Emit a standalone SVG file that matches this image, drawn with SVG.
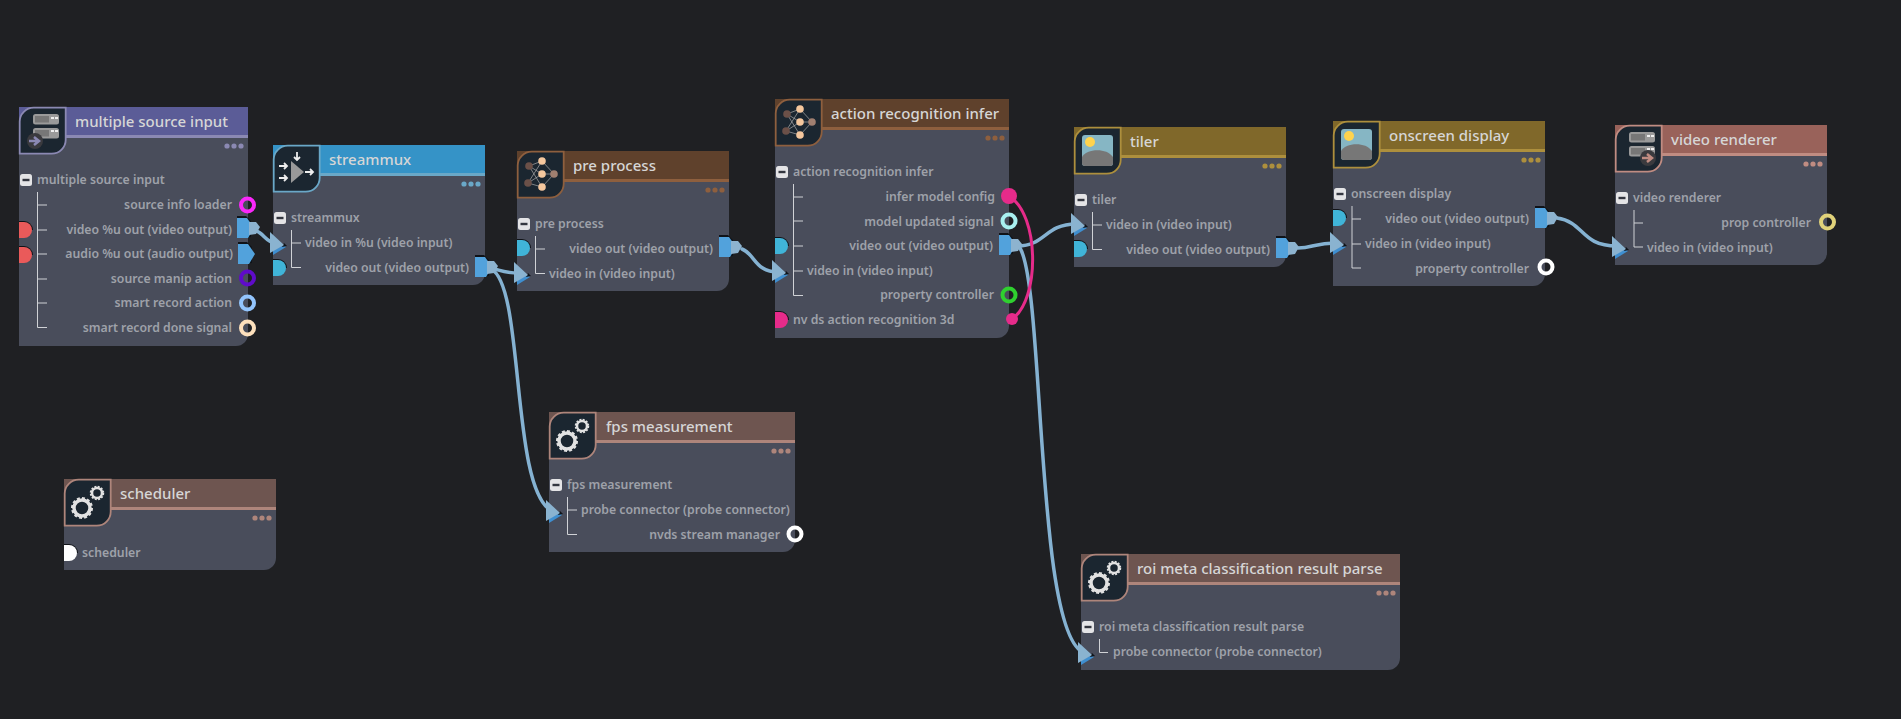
<svg xmlns="http://www.w3.org/2000/svg" width="1901" height="719" viewBox="0 0 1901 719">
<style>
text{font-family:"Noto Sans","Open Sans","DejaVu Sans",sans-serif}
.t{font-size:15px;font-weight:500;fill:#d6d6d6}
.b{font-size:12.25px;font-weight:600;fill:#9ea1a9}
.e{text-anchor:end}
.body{fill:#494d5b}
.tree{fill:none;stroke:#d0d2d6;stroke-width:1}
.wire{fill:none;stroke:#85b2d2;stroke-width:3.5;stroke-linecap:round}
.pink{fill:none;stroke:#e62b8a;stroke-width:3}
.ring{fill:none;stroke-width:4}
.dots{fill:currentColor}
.ib{fill:#1b2630;stroke:currentColor;stroke-width:1.8}
.net{stroke:#aaa;stroke-width:.7;fill:none}
.c1{color:#8b89b3}.c2{color:#6aa8c8}.c3{color:#8e5f3e}.c4{color:#ad8f3d}.c5{color:#c08c82}.c6{color:#ae857b}
</style>
<defs>
<path id="box" d="M0 46V14A14 14 0 0 1 14 0H46V32A14 14 0 0 1 32 46Z"/>
<g id="dots"><circle cx="-21" r="2.6"/><circle cx="-14" r="2.6"/><circle cx="-7" r="2.6"/></g>
<g id="col"><rect x="0" y="-6" width="12" height="12" rx="2.5" fill="#e4e4e6"/><rect x="2.5" y="-1.2" width="7" height="2.4" fill="#33363f"/></g>
<g id="out"><path d="M0 -11H9L14 -6V10L6 11H0Z" fill="#101318" transform="translate(0 -1)"/><path d="M0 -10H10L17 0 11 10H0Z" fill="#52a2dc"/></g>
<g id="outc"><use href="#out"/><path d="M12 -6H19L23 -1 19 6 12 7Z" fill="#8db3cf"/></g>
<g id="in"><path d="M3 13L16 5 14 3 3 8Z" fill="#3f8fd0"/><path d="M17 4L14 1 12 5Z" fill="#101318"/><path d="M0 -10L14 3 0 11Z" fill="#8ab3d0"/></g>
<g id="lp"><path d="M0 -9H5A9 9 0 0 1 14 0H0Z" fill="#101318"/><path d="M0 -8H5A8 8 0 0 1 5 8H0Z" fill="currentColor"/></g>
<g id="srv">
<rect x="14" y="7" width="26" height="10.500" rx="2.500" fill="#9a9a9a"/><rect x="16" y="9" width="14" height="6.500" fill="#777"/><path d="M32 11h3M36 11h3" stroke="#eee" stroke-width="2"/>
<rect x="14" y="21" width="26" height="10.500" rx="2.500" fill="#9a9a9a"/><rect x="16" y="23" width="14" height="6.500" fill="#777"/><path d="M32 24h3M36 24h3" stroke="#eee" stroke-width="2"/>
</g>
<g id="net">
<path class="net" d="M25 10L12 15 25 23 11 32 25 36M25 10L37 23 25 36M12 15L25 36M11 32L25 10M25 23H37"/>
<circle cx="12" cy="15" r="3.800" fill="#6b5048"/><circle cx="11" cy="32" r="3.800" fill="#6b5048"/><circle cx="37" cy="23" r="3.800" fill="#a07f70"/>
<circle cx="25" cy="10" r="3.800" fill="#f5c79d"/><circle cx="25" cy="23" r="3.800" fill="#f5c79d"/><circle cx="25" cy="36" r="3.800" fill="#f5c79d"/>
</g>
<g id="img">
<rect x="8" y="8" width="31" height="31" rx="3" fill="#86b6c4"/><circle cx="16" cy="15" r="5" fill="#ffd34d"/>
<path d="M8 30C12 22 32 20 39 30V36A3 3 0 0 1 36 39H11A3 3 0 0 1 8 36Z" fill="#777"/>
</g>
<g id="gears" fill="none" stroke="#e2e2e2">
<circle cx="18" cy="29" r="8" stroke-width="3.500"/><circle cx="18" cy="29" r="10" stroke-width="2" stroke-dasharray="3 2.200"/>
<circle cx="33" cy="14" r="5" stroke-width="2.500"/><circle cx="33" cy="14" r="6.500" stroke-width="1.500" stroke-dasharray="2 1.400"/>
</g>
</defs>
<rect width="1901" height="719" fill="#1f2023"/>

<g id="connectors">
<path class="wire" d="M256 231C264 233 266 243 276 243"/>
<path class="wire" d="M491 268C503 271 504 273 520 273"/>
<path class="wire" d="M491 269C525 285 510 490 552 511"/>
<path class="wire" d="M742 249C755 254 755 272 778 272"/>
<path class="wire" d="M1018 246C1045 246 1045 224 1076 224"/>
<path class="wire" d="M1020 248C1045 290 1035 640 1085 653"/>
<path class="wire" d="M1298 248C1312 248 1316 243 1335 243"/>
<path class="wire" d="M1557 218C1585 222 1580 246 1617 246"/>
<path class="pink" d="M1009 196C1040 215 1040 300 1012 319"/>
</g>

<g id="node-multiple-source-input" class="c1">
<path class="body" d="M19 107H248V334A12 12 0 0 1 236 346H19Z"/>
<rect x="19" y="107" width="229" height="28" fill="#5b5c97"/><rect x="19" y="135" width="229" height="3" fill="currentColor"/>
<use href="#box" class="ib" x="19.700" y="107.700"/><use href="#srv" x="19" y="107"/>
<circle cx="35" cy="141" r="8" fill="#3a3a3e"/><path d="M29 141h8M34 137l5 4-5 4" stroke="currentColor" stroke-width="2.500" fill="none"/>
<text class="t" x="75" y="127">multiple source input</text>
<use href="#dots" class="dots" x="248" y="146"/>
<use href="#col" x="20" y="180"/><text class="b" x="37" y="184">multiple source input</text>
<path class="tree" d="M37.500 192V327.500H47M38 205H47M38 230H47M38 254H47M38 279H47M38 303H47"/>
<text class="b e" x="232" y="209">source info loader</text>
<text class="b e" x="232" y="234">video %u out (video output)</text>
<text class="b e" x="233" y="258">audio %u out (audio output)</text>
<text class="b e" x="232" y="283">source manip action</text>
<text class="b e" x="232" y="307">smart record action</text>
<text class="b e" x="232" y="332">smart record done signal</text>
<circle class="ring" cx="247.500" cy="205" r="6.500" stroke="#fa28fa"/>
<circle class="ring" cx="247.500" cy="278" r="6.500" stroke="#5f0bc9"/>
<circle class="ring" cx="247.500" cy="303" r="6.500" stroke="#93c5fd"/>
<circle class="ring" cx="247.500" cy="328" r="6.500" stroke="#fde0bc"/>
<use href="#lp" x="19" y="230" color="#ea5a5a"/><use href="#lp" x="19" y="255" color="#ea5a5a"/>
<use href="#outc" x="237" y="228"/><use href="#out" x="238" y="254"/>
</g>

<g id="node-streammux" class="c2">
<path class="body" d="M273 145H485V273A12 12 0 0 1 473 285H273Z"/>
<rect x="273" y="145" width="212" height="28" fill="#3593c7"/><rect x="273" y="173" width="212" height="3" fill="currentColor"/>
<use href="#box" class="ib" x="273.700" y="145.700"/>
<path d="M291 161V183L304 172Z" fill="#999"/>
<path d="M279 166h8M284 163l3 3-3 3M279 178h8M284 175l3 3-3 3M305 172h8M310 169l3 3-3 3M297 152v8M294 157l3 3 3-3" stroke="#eee" stroke-width="1.800" fill="none"/>
<text class="t" x="329" y="165">streammux</text>
<use href="#dots" class="dots" x="485" y="184"/>
<use href="#col" x="274" y="218"/><text class="b" x="291" y="222">streammux</text>
<path class="tree" d="M291.500 230V267.500H301M292 243H301"/>
<text class="b" x="305" y="247">video in %u (video input)</text>
<text class="b e" x="469" y="272">video out (video output)</text>
<use href="#lp" x="273" y="268" color="#40b4d8"/><use href="#in" x="270" y="242"/><use href="#outc" x="475" y="267"/>
</g>

<g id="node-pre-process" class="c3">
<path class="body" d="M517 151H729V279A12 12 0 0 1 717 291H517Z"/>
<rect x="517" y="151" width="212" height="28" fill="#5f412c"/><rect x="517" y="179" width="212" height="3" fill="currentColor"/>
<use href="#box" class="ib" x="517.700" y="151.700"/><use href="#net" x="517" y="151"/>
<text class="t" x="573" y="171">pre process</text>
<use href="#dots" class="dots" x="729" y="190"/>
<use href="#col" x="518" y="224"/><text class="b" x="535" y="228">pre process</text>
<path class="tree" d="M535.500 236V273.500H545M536 249H545"/>
<text class="b e" x="713" y="253">video out (video output)</text>
<text class="b" x="549" y="278">video in (video input)</text>
<use href="#lp" x="517" y="248" color="#40b4d8"/><use href="#in" x="514" y="272"/><use href="#outc" x="719" y="247"/>
</g>

<g id="node-action-recognition-infer" class="c3">
<path class="body" d="M775 99H1009V326A12 12 0 0 1 997 338H775Z"/>
<rect x="775" y="99" width="234" height="28" fill="#5f412c"/><rect x="775" y="127" width="234" height="3" fill="currentColor"/>
<use href="#box" class="ib" x="775.700" y="99.700"/><use href="#net" x="775" y="99"/>
<text class="t" x="831" y="119">action recognition infer</text>
<use href="#dots" class="dots" x="1009" y="138"/>
<use href="#col" x="776" y="172"/><text class="b" x="793" y="176">action recognition infer</text>
<path class="tree" d="M793.500 184V295.500H803M794 197H803M794 221H803M794 246H803M794 271H803"/>
<text class="b e" x="995" y="201">infer model config</text>
<text class="b e" x="994" y="226">model updated signal</text>
<text class="b e" x="993" y="250">video out (video output)</text>
<text class="b" x="807" y="275">video in (video input)</text>
<text class="b e" x="994" y="299">property controller</text>
<text class="b" x="793" y="324">nv ds action recognition 3d</text>
<circle cx="1009" cy="196" r="8" fill="#e62b8a"/>
<circle class="ring" cx="1009" cy="221" r="6.500" stroke="#a8f0f0"/>
<circle class="ring" cx="1009" cy="295" r="6.500" stroke="#2fd12f"/>
<circle cx="1012" cy="319" r="6" fill="#e62b8a"/>
<use href="#lp" x="775" y="246" color="#40b4d8"/><use href="#in" x="772" y="270"/><use href="#lp" x="775" y="320" color="#e62b8a"/>
<use href="#outc" x="999" y="245"/>
</g>

<g id="node-tiler" class="c4">
<path class="body" d="M1074 127H1286V255A12 12 0 0 1 1274 267H1074Z"/>
<rect x="1074" y="127" width="212" height="28" fill="#80682a"/><rect x="1074" y="155" width="212" height="3" fill="currentColor"/>
<use href="#box" class="ib" x="1074.700" y="127.700"/><use href="#img" x="1074" y="127"/>
<text class="t" x="1130" y="147">tiler</text>
<use href="#dots" class="dots" x="1286" y="166"/>
<use href="#col" x="1075" y="200"/><text class="b" x="1092" y="204">tiler</text>
<path class="tree" d="M1092.500 212V249.500H1102M1093 225H1102"/>
<text class="b" x="1106" y="229">video in (video input)</text>
<text class="b e" x="1270" y="254">video out (video output)</text>
<use href="#in" x="1071" y="223"/><use href="#lp" x="1074" y="249" color="#40b4d8"/><use href="#outc" x="1276" y="248"/>
</g>

<g id="node-onscreen-display" class="c4">
<path class="body" d="M1333 121H1545V274A12 12 0 0 1 1533 286H1333Z"/>
<rect x="1333" y="121" width="212" height="28" fill="#80682a"/><rect x="1333" y="149" width="212" height="3" fill="currentColor"/>
<use href="#box" class="ib" x="1333.700" y="121.700"/><use href="#img" x="1333" y="121"/>
<text class="t" x="1389" y="141">onscreen display</text>
<use href="#dots" class="dots" x="1545" y="160"/>
<use href="#col" x="1334" y="194"/><text class="b" x="1351" y="198">onscreen display</text>
<path class="tree" d="M1352 206V268H1361M1352 219H1361M1352 244H1361"/>
<text class="b e" x="1529" y="223">video out (video output)</text>
<text class="b" x="1365" y="248">video in (video input)</text>
<text class="b e" x="1529" y="273">property controller</text>
<circle class="ring" cx="1546" cy="267" r="6.500" stroke="#fff"/>
<use href="#lp" x="1333" y="218" color="#40b4d8"/><use href="#in" x="1330" y="242"/><use href="#outc" x="1535" y="218"/>
</g>

<g id="node-video-renderer" class="c5">
<path class="body" d="M1615 125H1827V253A12 12 0 0 1 1815 265H1615Z"/>
<rect x="1615" y="125" width="212" height="28" fill="#99625a"/><rect x="1615" y="153" width="212" height="3" fill="currentColor"/>
<use href="#box" class="ib" x="1615.700" y="125.700"/><use href="#srv" x="1615" y="125"/>
<circle cx="1648" cy="158" r="8" fill="#3a3a3e"/><path d="M1642 158h8M1647 154l5 4-5 4" stroke="currentColor" stroke-width="2.500" fill="none"/>
<text class="t" x="1671" y="145">video renderer</text>
<use href="#dots" class="dots" x="1827" y="164"/>
<use href="#col" x="1616" y="198"/><text class="b" x="1633" y="202">video renderer</text>
<path class="tree" d="M1634 210V247H1643M1634 223H1643"/>
<text class="b e" x="1811" y="227">prop controller</text>
<text class="b" x="1647" y="252">video in (video input)</text>
<circle class="ring" cx="1827.500" cy="222" r="6.500" stroke="#e0d27a"/>
<use href="#in" x="1612" y="246"/>
</g>

<g id="node-scheduler" class="c6">
<path class="body" d="M64 479H276V558A12 12 0 0 1 264 570H64Z"/>
<rect x="64" y="479" width="212" height="28" fill="#6e5550"/><rect x="64" y="507" width="212" height="3" fill="currentColor"/>
<use href="#box" class="ib" x="64.700" y="479.700"/><use href="#gears" x="64" y="479"/>
<text class="t" x="120" y="499">scheduler</text>
<use href="#dots" class="dots" x="276" y="518"/>
<text class="b" x="82" y="557">scheduler</text>
<use href="#lp" x="64" y="553" color="#fff"/>
</g>

<g id="node-fps-measurement" class="c6">
<path class="body" d="M549 412H795V540A12 12 0 0 1 783 552H549Z"/>
<rect x="549" y="412" width="246" height="28" fill="#6e5550"/><rect x="549" y="440" width="246" height="3" fill="currentColor"/>
<use href="#box" class="ib" x="549.700" y="412.700"/><use href="#gears" x="549" y="412"/>
<text class="t" x="606" y="432">fps measurement</text>
<use href="#dots" class="dots" x="795" y="451"/>
<use href="#col" x="550" y="485"/><text class="b" x="567" y="489">fps measurement</text>
<path class="tree" d="M567.500 497V534.500H577M568 510H577"/>
<text class="b" x="581" y="514">probe connector (probe connector)</text>
<text class="b e" x="780" y="539">nvds stream manager</text>
<circle class="ring" cx="795" cy="534" r="6.500" stroke="#fff"/>
<use href="#in" x="546" y="510"/>
</g>

<g id="node-roi-meta-classification-result-parse" class="c6">
<path class="body" d="M1081 554H1400V658A12 12 0 0 1 1388 670H1081Z"/>
<rect x="1081" y="554" width="319" height="28" fill="#6e5550"/><rect x="1081" y="582" width="319" height="3" fill="currentColor"/>
<use href="#box" class="ib" x="1081.700" y="554.700"/><use href="#gears" x="1081" y="554"/>
<text class="t" x="1137" y="574">roi meta classification result parse</text>
<use href="#dots" class="dots" x="1400" y="593"/>
<use href="#col" x="1082" y="627"/><text class="b" x="1099" y="631">roi meta classification result parse</text>
<path class="tree" d="M1099.500 639V652.500H1108"/>
<text class="b" x="1113" y="656">probe connector (probe connector)</text>
<use href="#in" x="1078" y="652"/>
</g>
</svg>
